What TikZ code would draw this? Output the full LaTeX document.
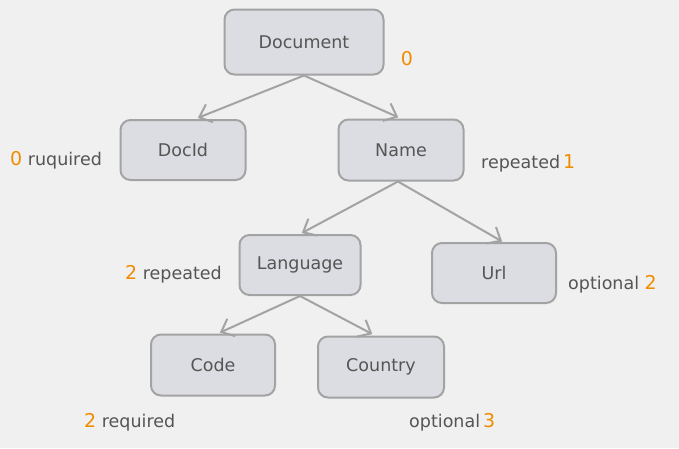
\documentclass[tikz,border=0pt]{standalone}
\usepackage{fontspec}
\setmainfont{DejaVu Sans}
\usepackage{tikz}
\usetikzlibrary{arrows.meta}
\usetikzlibrary{positioning}

\definecolor{bgcol}{HTML}{F0F0F0}
\definecolor{boxfill}{HTML}{DCDDE2}
\definecolor{boxline}{HTML}{A3A3A3}
\definecolor{txtcol}{HTML}{555555}
\definecolor{numcol}{HTML}{F08C00}

\tikzset{
  field/.style={draw=boxline, line width=2pt, fill=boxfill, rounded corners=10pt,
    text=txtcol, font=\fontsize{17.5}{20}\selectfont, inner sep=0pt},
  note/.style={text=txtcol, font=\fontsize{17.5}{20}\selectfont, inner sep=0pt, anchor=west},
  link/.style={draw=boxline, line width=2pt, line cap=round,
    -{Straight Barb[length=11pt,width=19pt,line width=2pt]}},
}

\newcommand{\num}[1]{\textcolor{numcol}{\fontsize{19}{20}\selectfont #1}}

\begin{document}
\begin{tikzpicture}[x=1pt, y=-1pt]

  % background and page size
  \fill[bgcol] (0,0) rectangle (679,448);
  \useasboundingbox (0,0) rectangle (679,448);

  % schema fields
  \node[field, minimum width=159pt, minimum height=65pt] (doc) at (304,42) {Document};
  \node[field, minimum width=125pt, minimum height=60pt] (docid) at (183,150) {DocId};
  \node[field, minimum width=125pt, minimum height=61pt] (name) at (401,150) {Name};
  \node[field, minimum width=121pt, minimum height=60pt] (lang) at (300,265) {Language};
  \node[field, minimum width=124pt, minimum height=60pt] (url) at (494,273) {Url};
  \node[field, minimum width=124pt, minimum height=61pt] (code) at (213,365) {Code};
  \node[field, minimum width=126pt, minimum height=61pt] (country) at (381,367) {Country};

  % edges
  \draw[link, shorten >=3pt] (doc.south) -- ([xshift=12pt]docid.north);
  \draw[link, shorten >=3pt] (doc.south) -- (name.north);
  \draw[link, shorten >=2pt] ([xshift=-3pt]name.south) -- (lang.north);
  \draw[link, shorten >=1pt] ([xshift=-3pt]name.south) -- ([xshift=9pt]url.north);
  \draw[link, shorten >=2pt] (lang.south) -- ([xshift=5pt]code.north);
  \draw[link, shorten >=3pt] (lang.south) -- ([xshift=-6pt]country.north);

  % levels and repetition
  \node[note, anchor=center] (docnum) at (407,59) {\num{0}};
  \node[note] (docidnote) at (10,160) {\num{0} ruquired};
  \node[note] (namenote) at (481,163) {repeated\,\num{1}};
  \node[note] (langnote) at (125,274) {\num{2} repeated};
  \node[note] (urlnote) at (568,284) {optional \num{2}};
  \node[note] (codenote) at (84,422) {\num{2} required};
  \node[note] (countrynote) at (409,422) {optional\,\num{3}};

\end{tikzpicture}
\end{document}
